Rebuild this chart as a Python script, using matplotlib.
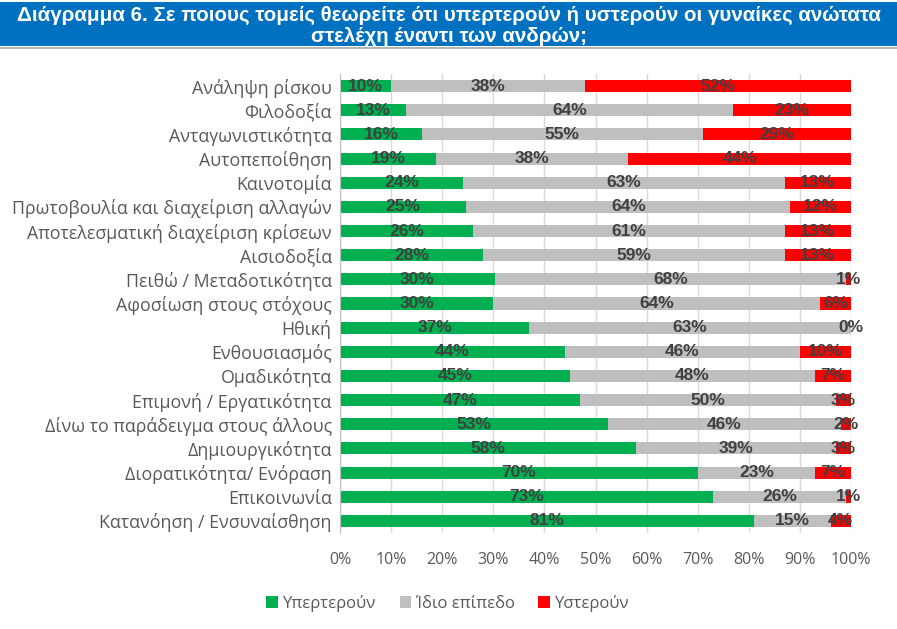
import matplotlib

matplotlib.use("Agg")
import matplotlib.pyplot as plt
import numpy as np
from matplotlib.patches import Rectangle

plt.rcParams["font.family"] = ["Liberation Sans", "DejaVu Sans"]

categories = [
    "Ανάληψη ρίσκου",
    "Φιλοδοξία",
    "Ανταγωνιστικότητα",
    "Αυτοπεποίθηση",
    "Καινοτομία",
    "Πρωτοβουλία και διαχείριση αλλαγών",
    "Αποτελεσματική διαχείριση κρίσεων",
    "Αισιοδοξία",
    "Πειθώ / Μεταδοτικότητα",
    "Αφοσίωση στους στόχους",
    "Ηθική",
    "Ενθουσιασμός",
    "Ομαδικότητα",
    "Επιμονή / Εργατικότητα",
    "Δίνω το παράδειγμα στους άλλους",
    "Δημιουργικότητα",
    "Διορατικότητα/ Ενόραση",
    "Επικοινωνία",
    "Κατανόηση / Ενσυναίσθηση",
]
better = [10, 13, 16, 19, 24, 25, 26, 28, 30, 30, 37, 44, 45, 47, 53, 58, 70, 73, 81]
same = [38, 64, 55, 38, 63, 64, 61, 59, 68, 64, 63, 46, 48, 50, 46, 39, 23, 26, 15]
worse = [52, 23, 29, 44, 13, 12, 13, 13, 1, 6, 0, 10, 7, 3, 2, 3, 7, 1, 4]

series_names = ["Υπερτερούν", "Ίδιο επίπεδο", "Υστερούν"]
colors = ["#00B050", "#BFBFBF", "#FF0000"]
x_ticks = np.arange(0, 1.01, 0.1)
x_ticklabels = [f"{int(round(t * 100))}%" for t in x_ticks]

label_font = ["Open Sans", "DejaVu Sans"]

fig = plt.figure(figsize=(8.97, 6.29), dpi=100)

# title banner
fig.patches.append(Rectangle((0, 1 - 46 / 629), 1, 44 / 629, transform=fig.transFigure,
                             facecolor="#0070C0", edgecolor="none", zorder=0))
fig.lines.append(plt.Line2D([0, 1], [1 - 47.5 / 629] * 2, transform=fig.transFigure,
                            color="#A6A6A6", lw=1.2))
fig.text(0.5, 1 - 15 / 629, "Διάγραμμα 6. Σε ποιους τομείς θεωρείτε ότι υπερτερούν ή υστερούν οι γυναίκες ανώτατα",
         ha="center", va="center", color="white", fontsize=14.8, fontweight="bold")
fig.text(0.5, 1 - 36 / 629, "στελέχη έναντι των ανδρών;",
         ha="center", va="center", color="white", fontsize=14.8, fontweight="bold")

ax = fig.add_axes([340 / 897, 1 - 533 / 629, 511 / 897, 459 / 629])

data = np.array([better, same, worse], dtype=float)
shares = data / data.sum(axis=0)
y = np.arange(len(categories))
left = np.zeros(len(categories))
for i in range(3):
    ax.barh(y, shares[i], left=left, height=0.5, color=colors[i], label=series_names[i], zorder=2)
    for yi, l, w, v in zip(y, left, shares[i], data[i]):
        ax.text(l + w / 2, yi, f"{int(v)}%", ha="center", va="center",
                fontsize=12.5, fontweight="bold", color="#404040", zorder=3)
    left += shares[i]

ax.set_xlim(0, 1)
ax.set_ylim(len(categories) - 0.5, -0.5)
ax.set_xticks(x_ticks)
ax.set_xticklabels(x_ticklabels, fontsize=11.5, color="#595959", family=label_font)
ax.set_yticks(y)
ax.set_yticklabels(categories, fontsize=12.8, color="#595959", family=label_font)
ax.tick_params(axis="y", length=0, pad=6)
ax.tick_params(axis="x", length=0, pad=14)
ax.grid(axis="x", color="#D9D9D9", lw=1, zorder=0)
for s in ["top", "right", "bottom"]:
    ax.spines[s].set_visible(False)
ax.spines["left"].set_color("#BFBFBF")

ax.legend(loc="center", bbox_to_anchor=(448 / 897, 1 - 603 / 629), bbox_transform=fig.transFigure,
          ncol=3, frameon=False, prop={"family": label_font, "size": 12},
          handlelength=0.7, handleheight=0.7, handletextpad=0.3, columnspacing=1.4,
          labelcolor="#595959")

fig.savefig("out.png", dpi=100)
